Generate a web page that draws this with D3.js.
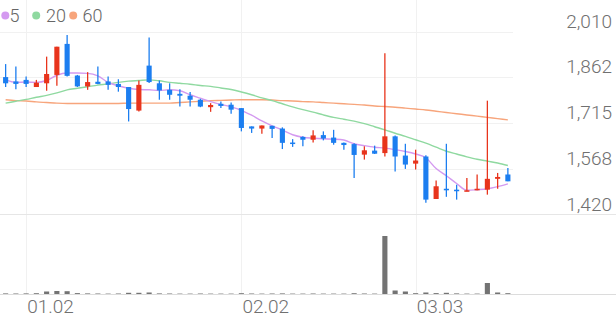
<!DOCTYPE html>
<html>
<head>
<meta charset="utf-8">
<script src="https://cdn.jsdelivr.net/npm/d3@7"></script>
<style>
  body { margin: 0; background: #fff; }
  text { font-family: Roboto, sans-serif; }
</style>
</head>
<body>
<svg id="chart" width="616" height="321"></svg>
<script>
// trading days
var dates = ["2025-12-29","2025-12-30","2026-01-02","2026-01-05","2026-01-06","2026-01-07","2026-01-08","2026-01-09","2026-01-12","2026-01-13",
  "2026-01-14","2026-01-15","2026-01-16","2026-01-19","2026-01-20","2026-01-21","2026-01-22","2026-01-23","2026-01-26","2026-01-27",
  "2026-01-28","2026-01-29","2026-01-30","2026-02-02","2026-02-03","2026-02-04","2026-02-05","2026-02-06","2026-02-09","2026-02-10",
  "2026-02-11","2026-02-12","2026-02-13","2026-02-19","2026-02-20","2026-02-23","2026-02-24","2026-02-25","2026-02-26","2026-02-27",
  "2026-03-03","2026-03-04","2026-03-05","2026-03-06","2026-03-09","2026-03-10","2026-03-11","2026-03-12","2026-03-13","2026-03-16"];

var open  = [1863,1849,1854,1831,1843,1870,1970,1868,1833,1848, 1849,1841,1831,1755,1900,1843,1822,1809,1803,1790,
             1766,1777,1774,1763,1704,1697,1706,1697,1652,1670, 1661,1676,1668,1651,1647,1613,1626,1618,1672,1610,
             1584,1607,1470,1503,1500,1495,1498,1500,1535,1549];
var high  = [1905,1897,1865,1854,1929,1961,1999,1870,1879,1897, 1865,1856,1831,1852,1991,1852,1843,1824,1815,1793,
             1779,1784,1781,1763,1704,1707,1706,1701,1663,1672, 1692,1688,1693,1652,1650,1640,1642,1940,1675,1648,
             1629,1611,1530,1648,1516,1538,1549,1787,1554,1570];
var low   = [1831,1824,1831,1831,1819,1835,1865,1831,1822,1840, 1822,1816,1720,1752,1844,1790,1790,1768,1768,1766,
             1751,1763,1745,1688,1683,1680,1667,1631,1638,1640, 1652,1659,1645,1629,1538,1597,1615,1607,1559,1567,
             1565,1458,1470,1477,1468,1495,1498,1484,1503,1527];
var close = [1843,1841,1841,1845,1873,1961,1867,1833,1847,1841, 1838,1831,1760,1838,1847,1820,1806,1803,1790,1768,
             1773,1770,1758,1699,1697,1707,1696,1651,1648,1661, 1675,1665,1651,1644,1612,1627,1616,1672,1607,1581,
             1594,1468,1511,1498,1495,1498,1503,1535,1541,1527];

// volume, thousand shares
var volume = [60,50,60,80,250,300,280,90,60,50, 40,50,120,120,150,60,50,40,40,50,
              40,40,40,80,50,40,50,60,40,40, 50,40,40,40,80,50,40,5800,350,250,
              80,150,90,120,60,40,40,1100,150,80];

var ma5  = [1854,1846,1847,1846,1852,1869,1876,1876,1875,1867, 1846,1835,1827,1823,1822,1820,1822,1819,1806,1795,
            1784,1775,1767,1756,1740,1722,1706,1692,1677,1669, 1666,1664,1663,1660,1648,1642,1637,1634,1629,1623,
            1615,1603,1568,1545,1520,1498,1500,1503,1510,1519];
var ma20 = [1779,1785,1791,1798,1804,1812,1822,1827,1832,1837, 1841,1846,1850,1852,1854,1851,1846,1843,1840,1836,
            1833,1828,1823,1815,1806,1796,1787,1777,1767,1758, 1750,1741,1733,1727,1721,1713,1703,1693,1682,1672,
            1661,1650,1637,1624,1615,1606,1598,1592,1586,1578];
var ma60 = [1790,1787,1786,1783,1781,1779,1778,1778,1778,1778, 1778,1778,1779,1779,1779,1779,1779,1781,1783,1785,
            1787,1788,1789,1790,1790,1790,1789,1787,1786,1784, 1783,1781,1779,1777,1775,1773,1770,1768,1766,1763,
            1760,1757,1753,1749,1745,1741,1737,1733,1729,1725];

var priceTicks = [1420, 1568, 1715, 1862, 2010];
var dateTicks = ["2026-01-02", "2026-02-02", "2026-03-03"];
var maNames = ["5", "20", "60"];

var UP = "#e8341c", DOWN = "#1c7ef0";
var maColors = ["#d49af0", "#8fd9a0", "#f7a57c"];

var svg = d3.select("#chart");

var x = d3.scaleBand().domain(dates).range([0.5, 513]).paddingInner(0.5).paddingOuter(0.25);
var cx = function(d) { return x(d) + x.bandwidth() / 2; };
var y = d3.scaleLinear().domain([1420, 2010]).range([214.5, 31.5]);
var yv = d3.scaleLinear().domain([0, d3.max(volume)]).range([294, 236]);

// grid
svg.append("g").selectAll("line").data(priceTicks.slice(1)).join("line")
  .attr("x1", 0).attr("x2", 513)
  .attr("y1", function(d) { return Math.round(y(d)) + 0.5; })
  .attr("y2", function(d) { return Math.round(y(d)) + 0.5; })
  .attr("stroke", "#f1f1f1");

svg.append("g").selectAll("line").data(dateTicks).join("line")
  .attr("x1", function(d) { return Math.round(cx(d)) + 0.5; })
  .attr("x2", function(d) { return Math.round(cx(d)) + 0.5; })
  .attr("y1", 0).attr("y2", 294)
  .attr("stroke", "#f1f1f1");

svg.append("line").attr("x1", 0).attr("x2", 616).attr("y1", 214.5).attr("y2", 214.5).attr("stroke", "#e6e6e6");
svg.append("line").attr("x1", 0).attr("x2", 616).attr("y1", 294.5).attr("y2", 294.5).attr("stroke", "#dcdcdc");

// price labels
svg.append("g").selectAll("text").data(priceTicks).join("text")
  .attr("x", 612).attr("y", function(d) { return y(d) - 4; })
  .attr("text-anchor", "end")
  .attr("font-size", 19).attr("font-weight", 300).attr("fill", "#707070")
  .text(d3.format(","));

// date labels
var fmt = d3.timeFormat("%m.%d"), parse = d3.timeParse("%Y-%m-%d");
svg.append("g").selectAll("text").data(dateTicks).join("text")
  .attr("x", function(d) { return cx(d) + 1; }).attr("y", 313)
  .attr("font-size", 19).attr("font-weight", 300).attr("fill", "#707070")
  .text(function(d) { return fmt(parse(d)); });

// volume
svg.append("g").selectAll("rect").data(dates).join("rect")
  .attr("x", function(d) { return x(d); })
  .attr("width", x.bandwidth())
  .attr("y", function(d, i) { return yv(volume[i]); })
  .attr("height", function(d, i) { return 294 - yv(volume[i]); })
  .attr("fill", "#737373");

// moving averages
var line = d3.line().x(function(d, i) { return cx(dates[i]); }).y(function(d) { return y(d); }).curve(d3.curveMonotoneX);
[ma60, ma20, ma5].forEach(function(s, k) {
  svg.append("path").datum(s).attr("d", line)
    .attr("fill", "none").attr("stroke", maColors[2 - k]).attr("stroke-width", 1.4);
});

// candles
var candles = svg.append("g").selectAll("g").data(dates).join("g");
candles.append("line")
  .attr("x1", function(d) { return cx(d); }).attr("x2", function(d) { return cx(d); })
  .attr("y1", function(d, i) { return y(high[i]); })
  .attr("y2", function(d, i) { return y(low[i]); })
  .attr("stroke", function(d, i) { return close[i] >= open[i] ? UP : DOWN; })
  .attr("stroke-width", 1.3);
candles.append("rect")
  .attr("x", function(d) { return x(d); })
  .attr("width", x.bandwidth())
  .attr("y", function(d, i) { return y(Math.max(open[i], close[i])); })
  .attr("height", function(d, i) { return Math.max(1.5, Math.abs(y(open[i]) - y(close[i]))); })
  .attr("fill", function(d, i) { return close[i] >= open[i] ? UP : DOWN; });

// legend
var lx = [5.3, 36.2, 73.2];
var tx = [9.5, 46, 82.5];
var legend = svg.append("g");
maNames.forEach(function(n, k) {
  legend.append("circle").attr("cx", lx[k]).attr("cy", 15.5).attr("r", 4).attr("fill", maColors[k]);
  legend.append("text").attr("x", tx[k]).attr("y", 22)
    .attr("font-size", 18).attr("font-weight", 300).attr("fill", "#666").text(n);
});
</script>
</body>
</html>
